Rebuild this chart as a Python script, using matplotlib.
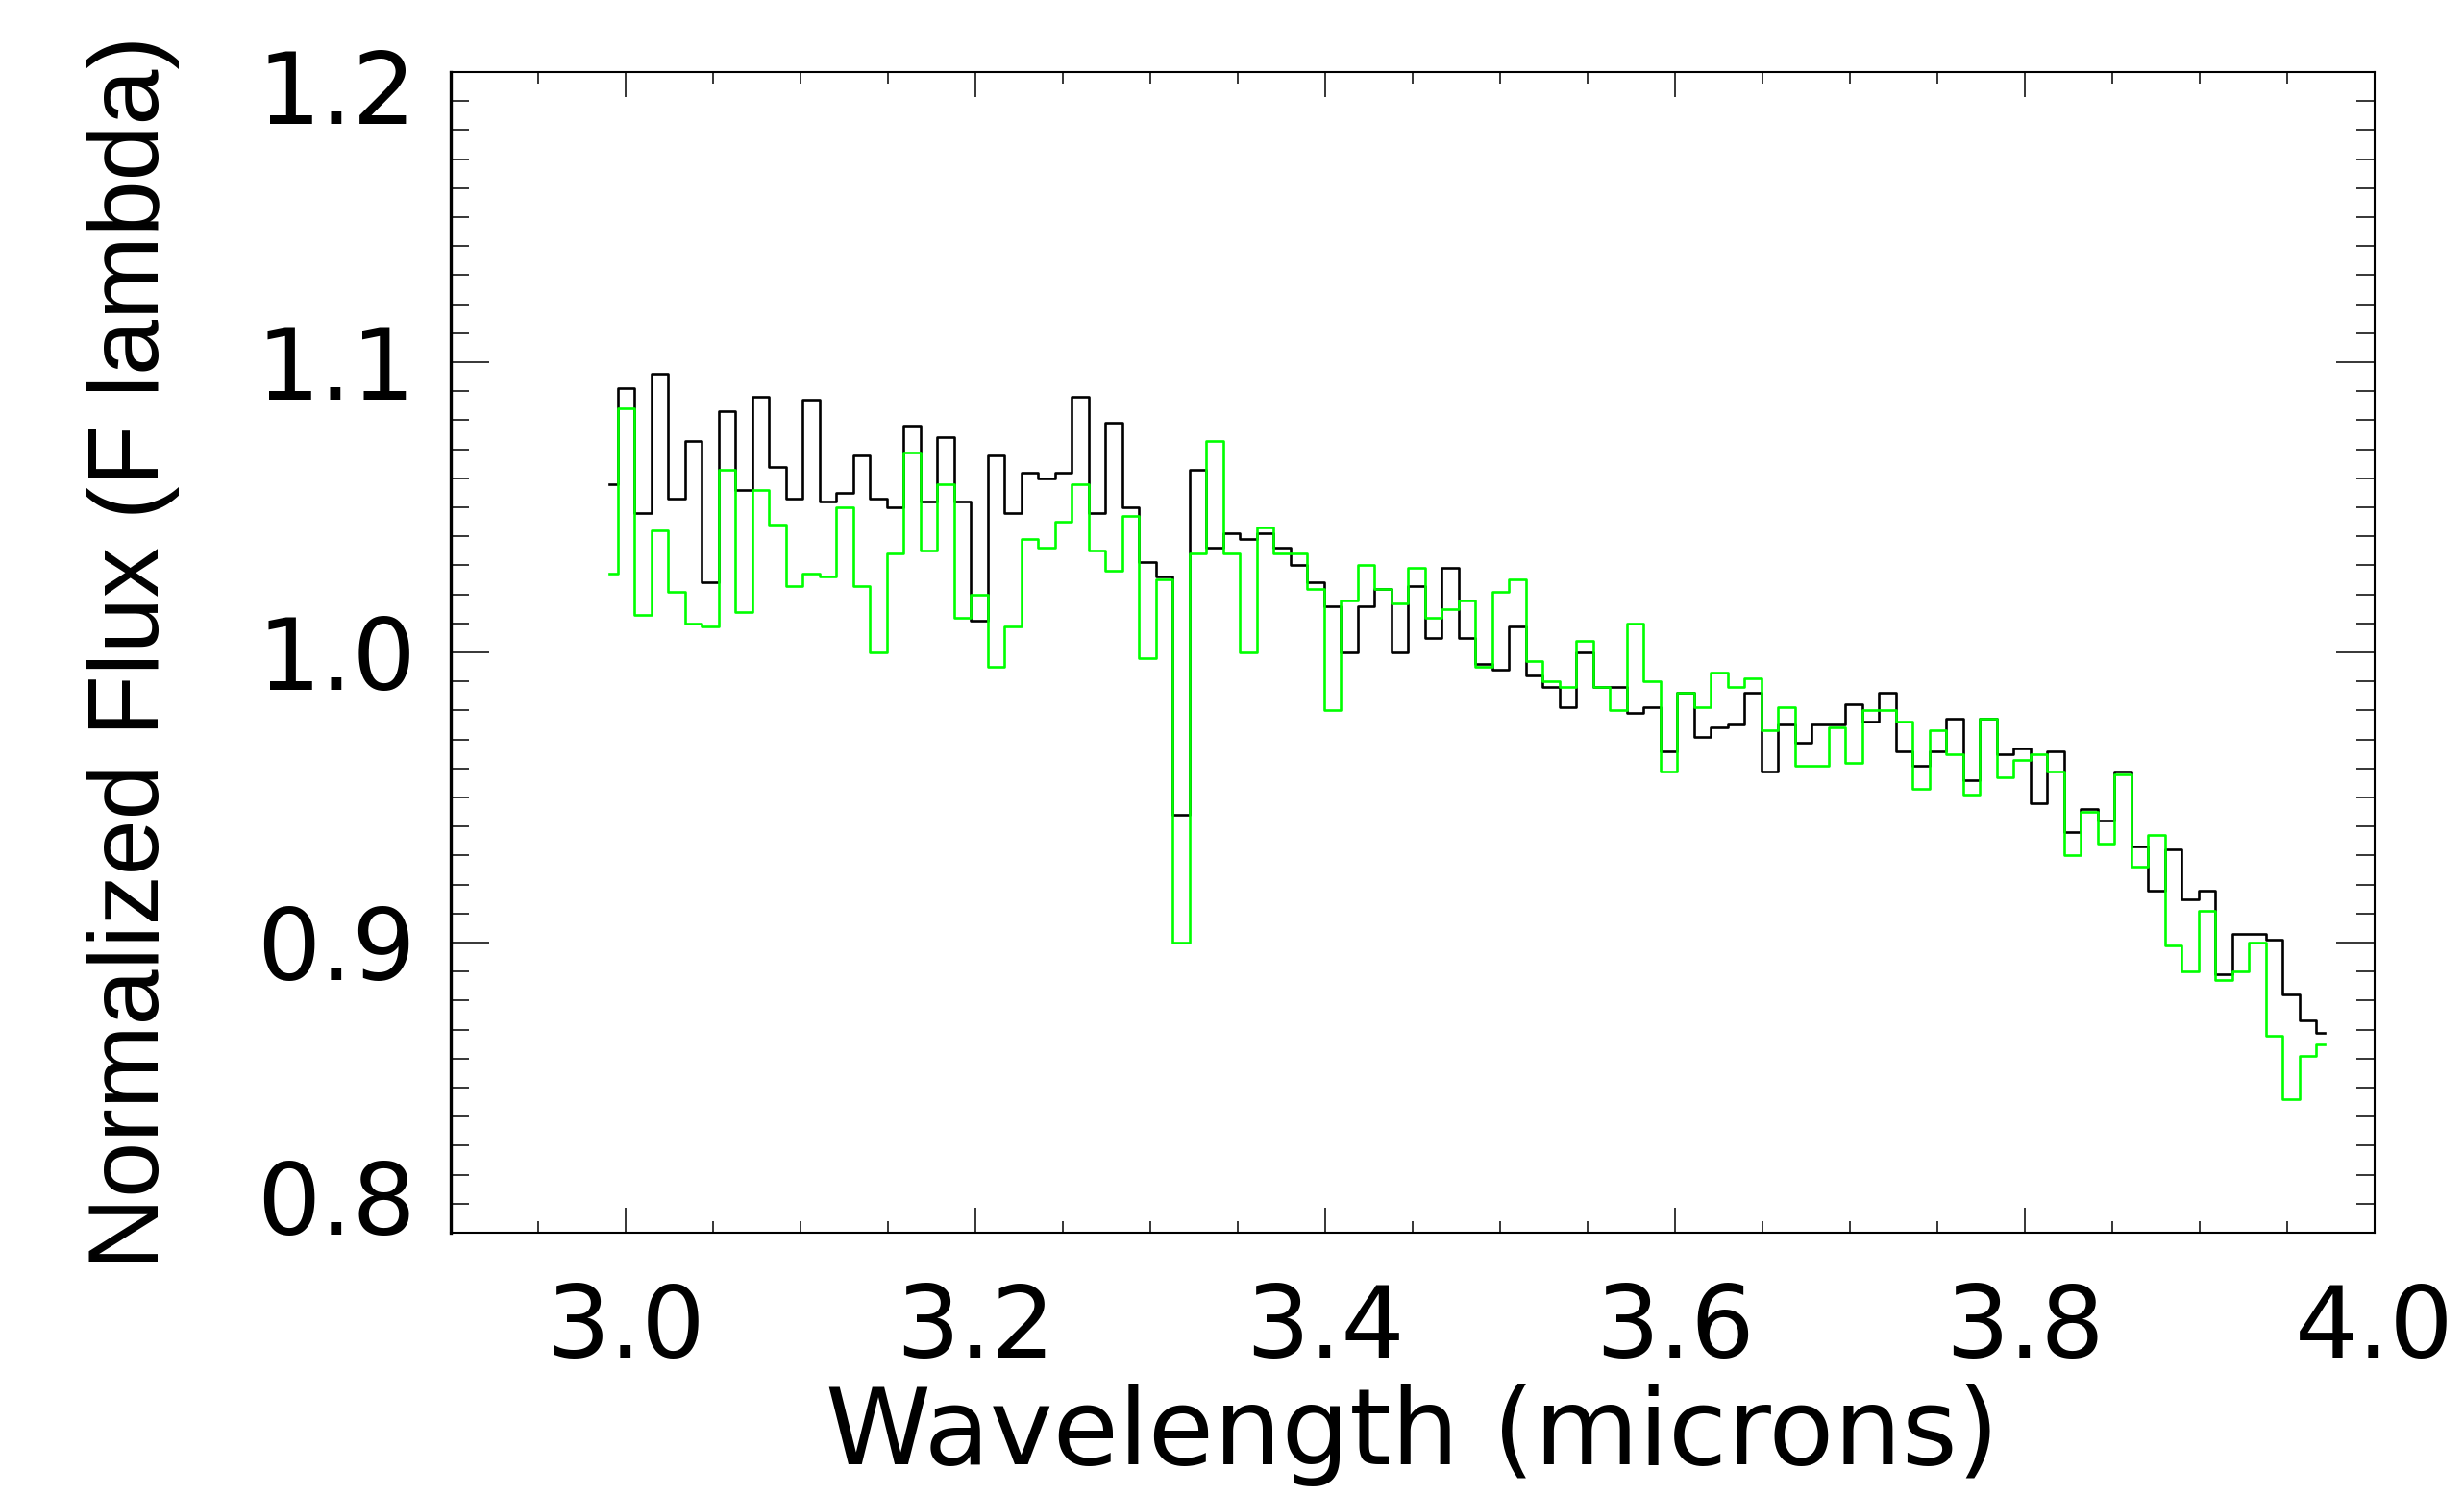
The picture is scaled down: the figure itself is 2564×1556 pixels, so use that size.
import matplotlib
matplotlib.use("Agg")
import matplotlib.pyplot as plt
from matplotlib.ticker import MultipleLocator, FormatStrFormatter
from matplotlib.transforms import ScaledTranslation

# ── data ────────────────────────────────────────────────────
wavelength = [
    2.9906, 3.0002, 3.0098, 3.0194, 3.0291, 3.0387, 3.0483, 3.0579, 3.0675, 3.0771,
    3.0868, 3.0964, 3.1060, 3.1156, 3.1252, 3.1348, 3.1445, 3.1541, 3.1637, 3.1733,
    3.1829, 3.1925, 3.2022, 3.2118, 3.2214, 3.2310, 3.2406, 3.2503, 3.2598, 3.2695,
    3.2791, 3.2887, 3.2983, 3.3079, 3.3175, 3.3272, 3.3368, 3.3464, 3.3560, 3.3656,
    3.3752, 3.3849, 3.3945, 3.4041, 3.4137, 3.4233, 3.4329, 3.4426, 3.4522, 3.4618,
    3.4714, 3.4810, 3.4906, 3.5003, 3.5099, 3.5195, 3.5291, 3.5387, 3.5483, 3.5579,
    3.5676, 3.5772, 3.5868, 3.5964, 3.6060, 3.6156, 3.6253, 3.6349, 3.6445, 3.6541,
    3.6637, 3.6733, 3.6830, 3.6926, 3.7022, 3.7118, 3.7214, 3.7310, 3.7406, 3.7503,
    3.7599, 3.7695, 3.7791, 3.7887, 3.7983, 3.8080, 3.8176, 3.8272, 3.8368, 3.8464,
    3.8560, 3.8657, 3.8753, 3.8849, 3.8945, 3.9041, 3.9137, 3.9234, 3.9330, 3.9426,
    3.9522, 3.9618, 3.9714,
]

flux_black = [
    1.058, 1.091, 1.048, 1.096, 1.053, 1.073, 1.024, 1.083, 1.056, 1.088,
    1.064, 1.053, 1.087, 1.052, 1.055, 1.068, 1.053, 1.050, 1.078, 1.052,
    1.074, 1.052, 1.011, 1.068, 1.048, 1.062, 1.060, 1.062, 1.088, 1.048,
    1.079, 1.050, 1.031, 1.026, 0.944, 1.063, 1.036, 1.041, 1.039, 1.041,
    1.036, 1.030, 1.024, 1.016, 1.000, 1.016, 1.022, 1.000, 1.023, 1.005,
    1.029, 1.005, 0.996, 0.994, 1.009, 0.992, 0.988, 0.981, 1.000, 0.988,
    0.988, 0.979, 0.981, 0.966, 0.986, 0.971, 0.974, 0.975, 0.986, 0.959,
    0.975, 0.969, 0.975, 0.975, 0.982, 0.976, 0.986, 0.966, 0.961, 0.966,
    0.977, 0.956, 0.977, 0.965, 0.967, 0.948, 0.966, 0.938, 0.946, 0.942,
    0.959, 0.933, 0.918, 0.932, 0.915, 0.918, 0.889, 0.903, 0.903, 0.901,
    0.882, 0.873, 0.869,
]

flux_green = [
    1.027, 1.084, 1.013, 1.042, 1.021, 1.010, 1.009, 1.063, 1.014, 1.056,
    1.044, 1.023, 1.027, 1.026, 1.050, 1.023, 1.000, 1.034, 1.069, 1.035,
    1.058, 1.012, 1.020, 0.995, 1.009, 1.039, 1.036, 1.045, 1.058, 1.035,
    1.028, 1.047, 0.998, 1.025, 0.900, 1.034, 1.073, 1.034, 1.000, 1.043,
    1.034, 1.034, 1.022, 0.980, 1.018, 1.030, 1.022, 1.017, 1.029, 1.012,
    1.015, 1.018, 0.995, 1.021, 1.025, 0.997, 0.990, 0.988, 1.004, 0.988,
    0.980, 1.010, 0.990, 0.959, 0.986, 0.981, 0.993, 0.988, 0.991, 0.973,
    0.981, 0.961, 0.961, 0.974, 0.962, 0.980, 0.980, 0.976, 0.953, 0.973,
    0.965, 0.951, 0.977, 0.957, 0.963, 0.965, 0.959, 0.930, 0.945, 0.934,
    0.958, 0.926, 0.937, 0.899, 0.890, 0.911, 0.887, 0.890, 0.900, 0.868,
    0.846, 0.861, 0.865,
]

# ── figure ──────────────────────────────────────────────────
fig = plt.figure(figsize=(25.64, 15.56), dpi=100)
ax = fig.add_axes([0.1829, 0.1755, 0.7808, 0.7763])

ax.step(wavelength, flux_black, where='mid', color='black', linewidth=1.9)
ax.step(wavelength, flux_green, where='mid', color='#00ff00', linewidth=1.9)

ax.set_xlim(2.9, 4.0)
ax.set_ylim(0.8, 1.2)

ax.xaxis.set_major_locator(MultipleLocator(0.2))
ax.xaxis.set_minor_locator(MultipleLocator(0.05))
ax.yaxis.set_major_locator(MultipleLocator(0.1))
ax.yaxis.set_minor_locator(MultipleLocator(0.01))
ax.xaxis.set_major_formatter(FormatStrFormatter('%.1f'))
ax.yaxis.set_major_formatter(FormatStrFormatter('%.1f'))

tick_font = 'DejaVu Sans'
ax.tick_params(axis='both', which='both', direction='in',
               top=True, right=True, width=1.1)
ax.tick_params(axis='x', which='major', length=18.5, pad=37, labelsize=75)
ax.tick_params(axis='x', which='minor', length=8.5)
ax.tick_params(axis='y', which='major', length=28.5, pad=26, labelsize=75)
ax.tick_params(axis='y', which='minor', length=14)
for lab in ax.get_xticklabels() + ax.get_yticklabels():
    lab.set_family(tick_font)

for side in ['top', 'right', 'bottom']:
    ax.spines[side].set_linewidth(1.5)
ax.spines['left'].set_linewidth(2.4)

ax.set_xlabel("Wavelength (microns)", fontsize=80, family=tick_font)
ax.xaxis.set_label_coords(0.5, -0.13)
ax.set_ylabel("Normalized Flux (F lambda)", fontsize=75, family='Liberation Sans')
ax.yaxis.set_label_coords(-0.141, 0.5)

# IDL-style: end labels pulled inside the axis range
fig.canvas.draw()
for t, v in zip(ax.yaxis.get_major_ticks(), ax.yaxis.get_majorticklocs()):
    if abs(v - 1.2) < 1e-6:
        t.label1.set_transform(t.label1.get_transform()
                               + ScaledTranslation(0, -0.15, fig.dpi_scale_trans))
    elif abs(v - 0.8) < 1e-6:
        t.label1.set_transform(t.label1.get_transform()
                               + ScaledTranslation(0, 0.37, fig.dpi_scale_trans))

plt.savefig("out.png", dpi=100)
plt.close()
